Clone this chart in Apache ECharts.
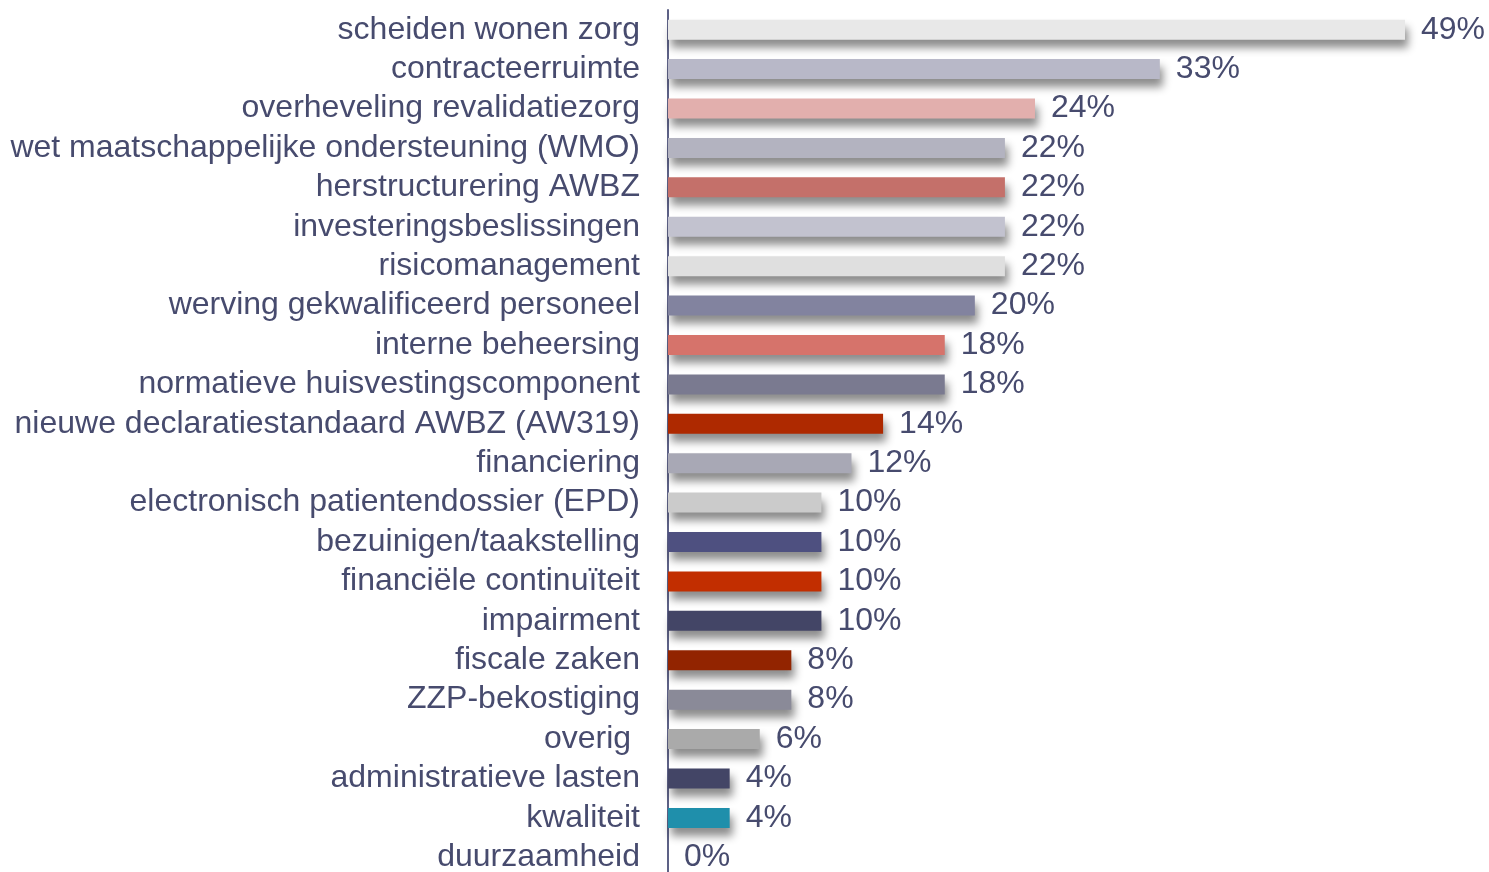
<!DOCTYPE html>
<html>
<head>
<meta charset="utf-8">
<script src="https://cdn.jsdelivr.net/npm/echarts@6/dist/echarts.min.js"></script>
<style>
  html, body { margin: 0; padding: 0; background: #fff; }
  #chart { width: 1489px; height: 872px; }
</style>
</head>
<body>
<div id="chart"></div>
<script>
// onderwerpen, van boven naar beneden
var categories = [
  "scheiden wonen zorg",
  "contracteerruimte",
  "overheveling revalidatiezorg",
  "wet maatschappelijke ondersteuning (WMO)",
  "herstructurering AWBZ",
  "investeringsbeslissingen",
  "risicomanagement",
  "werving gekwalificeerd personeel",
  "interne beheersing",
  "normatieve huisvestingscomponent",
  "nieuwe declaratiestandaard AWBZ (AW319)",
  "financiering",
  "electronisch patientendossier (EPD)",
  "bezuinigen/taakstelling",
  "financiële continuïteit",
  "impairment",
  "fiscale zaken",
  "ZZP-bekostiging",
  "overig ",
  "administratieve lasten",
  "kwaliteit",
  "duurzaamheid"
];
// percentages (labels show rounded values)
var values = [49.0, 32.7, 24.4, 22.4, 22.4, 22.4, 22.4, 20.4, 18.4, 18.4, 14.3, 12.2,
  10.2, 10.2, 10.2, 10.2, 8.2, 8.2, 6.1, 4.1, 4.1, 0];
var barColors = [
  "#e8e8e8", "#b8b8c8", "#e2afad", "#b3b3c0", "#c4706a", "#c2c2cf", "#dfdfdf",
  "#82839f", "#d6736b", "#7a7a90", "#ae2900", "#a8a8b5", "#cbcbcb", "#4e5080",
  "#c22e00", "#434566", "#922400", "#8a8a98", "#aaaaaa", "#434566", "#1f8fab", "#cccccc"
];

var textColor = "#474b6e";
var chart = echarts.init(document.getElementById("chart"));

chart.setOption({
  animation: false,
  grid: { left: 668, top: 10, width: 737, height: 867, outerBoundsMode: "none", containLabel: false },
  xAxis: {
    type: "value",
    min: 0,
    max: 49,
    show: false
  },
  yAxis: {
    type: "category",
    inverse: true,
    data: categories,
    axisLine: { lineStyle: { color: "#5d6186", width: 2 } },
    axisTick: { show: false },
    axisLabel: {
      interval: 0,
      color: textColor,
      fontSize: 32,
      fontFamily: "Liberation Sans, Arial, sans-serif",
      margin: 28
    }
  },
  series: [{
    type: "bar",
    barWidth: 20,
    data: values.map(function (v, i) {
      return { value: v, itemStyle: { color: barColors[i] } };
    }),
    itemStyle: {
      shadowColor: "rgba(0,0,0,0.45)",
      shadowBlur: 8,
      shadowOffsetX: 3,
      shadowOffsetY: 8
    },
    label: {
      show: true,
      position: "right",
      distance: 16,
      color: textColor,
      fontSize: 32,
      fontFamily: "Liberation Sans, Arial, sans-serif",
      formatter: function (p) { return Math.round(p.value) + "%"; }
    }
  }]
});
</script>
</body>
</html>
